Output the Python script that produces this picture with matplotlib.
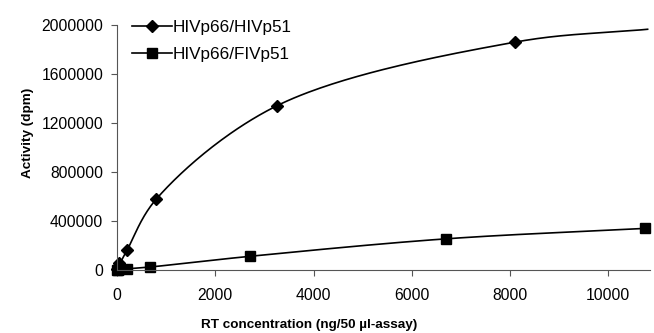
import numpy as np
import matplotlib.pyplot as plt
from matplotlib.lines import Line2D

plt.rcParams['font.family'] = ['Liberation Sans', 'DejaVu Sans']

# HIVp66/HIVp51 measured points
hiv_x = [0, 15, 30, 200, 800, 3250, 8100]
hiv_y = [5000, 25000, 60000, 160000, 580000, 1340000, 1860000]
# smooth curve knots (goes past the last marker)
hiv_curve_x = [0, 200, 800, 3250, 8100, 10800]
hiv_curve_y = [10000, 160000, 580000, 1340000, 1860000, 1965000]

# HIVp66/FIVp51
fiv_x = [0, 15, 30, 200, 670, 2700, 6700, 10750]
fiv_y = [2000, 4000, 6000, 10000, 25000, 112000, 255000, 340000]

xlim = (0, 10850)
ylim = (0, 2000000)
xticks = [0, 2000, 4000, 6000, 8000, 10000]
yticks = [0, 400000, 800000, 1200000, 1600000, 2000000]


def smooth(xs, ys, n=60):
    # centripetal Catmull-Rom through the knots, in screen-like units
    sx, sy = xlim[1] / 533.0, ylim[1] / 245.0
    p = np.column_stack([np.asarray(xs) / sx, np.asarray(ys) / sy])
    p = np.vstack([p[0] - (p[1] - p[0]), p, p[-1] + (p[-1] - p[-2])])
    out = []
    for i in range(1, len(p) - 2):
        P = p[i - 1:i + 3]
        t = [0.0]
        for k in range(3):
            t.append(t[-1] + np.linalg.norm(P[k + 1] - P[k]) ** 0.5)
        tt = np.linspace(t[1], t[2], n)[:, None]
        a1 = (t[1] - tt) / (t[1] - t[0]) * P[0] + (tt - t[0]) / (t[1] - t[0]) * P[1]
        a2 = (t[2] - tt) / (t[2] - t[1]) * P[1] + (tt - t[1]) / (t[2] - t[1]) * P[2]
        a3 = (t[3] - tt) / (t[3] - t[2]) * P[2] + (tt - t[2]) / (t[3] - t[2]) * P[3]
        b1 = (t[2] - tt) / (t[2] - t[0]) * a1 + (tt - t[0]) / (t[2] - t[0]) * a2
        b2 = (t[3] - tt) / (t[3] - t[1]) * a2 + (tt - t[1]) / (t[3] - t[1]) * a3
        c = (t[2] - tt) / (t[2] - t[1]) * b1 + (tt - t[1]) / (t[2] - t[1]) * b2
        out.append(c)
    out = np.vstack(out)
    return out[:, 0] * sx, out[:, 1] * sy


fig = plt.figure(figsize=(6.54, 3.33), dpi=100)
ax = fig.add_axes([0.179, 0.189, 0.815, 0.736])

cx, cy = smooth(hiv_curve_x, hiv_curve_y)
ax.plot(cx, cy, color='black', lw=1.2, clip_on=False)
ax.plot(hiv_x, hiv_y, ls='', marker='D', ms=6.5, color='black', clip_on=False)

fx, fy = smooth(fiv_x[3:], fiv_y[3:])
ax.plot(np.r_[fiv_x[:3], fx], np.r_[fiv_y[:3], fy], color='black', lw=1.2,
        clip_on=False)
ax.plot(fiv_x, fiv_y, ls='', marker='s', ms=7, color='black', clip_on=False)

ax.set_xlim(*xlim)
ax.set_ylim(*ylim)
ax.set_xticks(xticks)
ax.set_yticks(yticks)
ax.set_xticklabels([str(v) for v in xticks])
ax.set_yticklabels([str(v) for v in yticks])
for s in ['top', 'right']:
    ax.spines[s].set_visible(False)
for s in ['left', 'bottom']:
    ax.spines[s].set_linewidth(0.8)
    ax.spines[s].set_color('#555555')
ax.tick_params(direction='out', length=4, width=0.8, colors='#555555',
               labelcolor='black', labelsize=11.3)
ax.tick_params(axis='x', pad=9)
ax.tick_params(axis='y', pad=6)

ax.set_xlabel('RT concentration (ng/50 µl-assay)', fontsize=9.7,
              fontweight='bold')
ax.set_ylabel('Activity (dpm)', fontsize=9.7, fontweight='bold')
ax.yaxis.set_label_coords(-0.155, 0.56)
ax.xaxis.set_label_coords(0.36, -0.2)

handles = [Line2D([], [], color='black', lw=1.2, marker='D', ms=6.5),
           Line2D([], [], color='black', lw=1.2, marker='s', ms=7)]
ax.legend(handles, ['HIVp66/HIVp51', 'HIVp66/FIVp51'], loc='upper left',
          bbox_to_anchor=(0.0, 1.085), frameon=False, fontsize=12.3,
          handlelength=2.3, handletextpad=0.05, labelspacing=0.75)

fig.savefig('out.png', dpi=100)
